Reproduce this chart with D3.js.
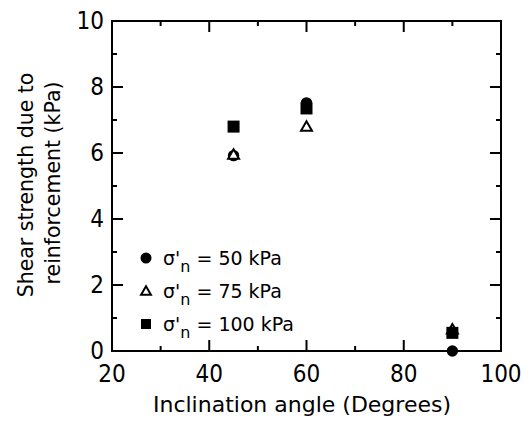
<!DOCTYPE html>
<html><head><meta charset="utf-8">
<script src="https://cdn.jsdelivr.net/npm/d3@7"></script>
<style>body{margin:0;background:#fff}svg{display:block}</style>
</head><body>
<svg id="c" width="531" height="421"></svg>
<script>
const angles = [45, 60, 90];
const s50 = [5.92, 7.52, 0.0];
const s75 = [5.95, 6.8, 0.66];
const s100 = [6.8, 7.35, 0.55];
const xTicks = [20, 40, 60, 80, 100];
const yTicks = [0, 2, 4, 6, 8, 10];
const legendLabels = ["50 kPa", "75 kPa", "100 kPa"];

const FONT = "'DejaVu Sans Condensed', 'DejaVu Sans', sans-serif";
const FONT2 = "'DejaVu Sans', sans-serif";
const svg = d3.select("#c");
const L = 112, R = 501, T = 21, B = 351;
const x = d3.scaleLinear().domain([20, 100]).range([L, R]);
const y = d3.scaleLinear().domain([0, 10]).range([B, T]);

const g = svg.append("g");
const xMinor = d3.range(30, 100, 20), yMinor = d3.range(1, 10, 2);
function axisLines() {
  const a = g.append("g").attr("stroke", "#000").attr("stroke-width", 2);
  xTicks.slice(1, -1).forEach(v => {
    a.append("line").attr("x1", x(v)).attr("x2", x(v)).attr("y1", B).attr("y2", B - 11);
    a.append("line").attr("x1", x(v)).attr("x2", x(v)).attr("y1", T).attr("y2", T + 11);
  });
  xMinor.forEach(v => {
    a.append("line").attr("x1", x(v)).attr("x2", x(v)).attr("y1", B).attr("y2", B - 5);
    a.append("line").attr("x1", x(v)).attr("x2", x(v)).attr("y1", T).attr("y2", T + 5);
  });
  yTicks.slice(1, -1).forEach(v => {
    a.append("line").attr("y1", y(v)).attr("y2", y(v)).attr("x1", L).attr("x2", L + 11);
    a.append("line").attr("y1", y(v)).attr("y2", y(v)).attr("x1", R).attr("x2", R - 11);
  });
  yMinor.forEach(v => {
    a.append("line").attr("y1", y(v)).attr("y2", y(v)).attr("x1", L).attr("x2", L + 5);
    a.append("line").attr("y1", y(v)).attr("y2", y(v)).attr("x1", R).attr("x2", R - 5);
  });
  a.append("rect").attr("x", L).attr("y", T).attr("width", R - L).attr("height", B - T).attr("fill", "none");
}
axisLines();

g.selectAll(".xl").data(xTicks).enter().append("text")
  .attr("x", d => x(d)).attr("y", 382).attr("text-anchor", "middle")
  .attr("font-family", FONT).attr("font-size", 24).text(d => d);
g.selectAll(".yl").data(yTicks).enter().append("text")
  .attr("x", 104).attr("y", d => y(d) + 8).attr("text-anchor", "end")
  .attr("font-family", FONT).attr("font-size", 24).text(d => d);

g.append("text").attr("x", 302).attr("y", 412).attr("text-anchor", "middle")
  .attr("font-family", FONT2).attr("font-size", 22).text("Inclination angle (Degrees)");
g.append("text").attr("transform", "translate(33,185) rotate(-90)").attr("text-anchor", "middle")
  .attr("font-family", FONT2).attr("font-size", 20.5).text("Shear strength due to");
g.append("text").attr("transform", "translate(60,183) rotate(-90)").attr("text-anchor", "middle")
  .attr("font-family", FONT2).attr("font-size", 20.5).text("reinforcement (kPa)");

const tri = d3.symbol().type(d3.symbolTriangle).size(52);
g.selectAll(".c50").data(angles).enter().append("circle")
  .attr("cx", d => x(d)).attr("cy", (d, i) => y(s50[i])).attr("r", 5.7).attr("fill", "#000");
g.selectAll(".t75").data(angles).enter().append("path")
  .attr("d", tri).attr("transform", (d, i) => `translate(${x(d)},${y(s75[i]) + 1})`)
  .attr("fill", "#fff").attr("stroke", "#000").attr("stroke-width", 2);
g.selectAll(".s100").data(angles).enter().append("rect")
  .attr("x", d => x(d) - 6).attr("y", (d, i) => y(s100[i]) - 6).attr("width", 12).attr("height", 12).attr("fill", "#000");

const ly = [258, 291, 324];
const lg = g.append("g");
lg.append("circle").attr("cx", 146).attr("cy", ly[0]).attr("r", 5.5).attr("fill", "#000");
lg.append("path").attr("d", d3.symbol().type(d3.symbolTriangle).size(42))
  .attr("transform", `translate(146,${ly[1] + 1})`).attr("fill", "#fff").attr("stroke", "#000").attr("stroke-width", 2);
lg.append("rect").attr("x", 141).attr("y", ly[2] - 5).attr("width", 10).attr("height", 10).attr("fill", "#000");
legendLabels.forEach((t, i) => {
  const tx = lg.append("text").attr("x", 163).attr("y", ly[i] + 7)
    .attr("font-family", FONT2).attr("font-size", 19);
  tx.append("tspan").text("σ'");
  tx.append("tspan").attr("font-size", 16).attr("dy", 7).text("n");
  tx.append("tspan").attr("dy", -7).text(" = " + t);
});
</script>
</body></html>
